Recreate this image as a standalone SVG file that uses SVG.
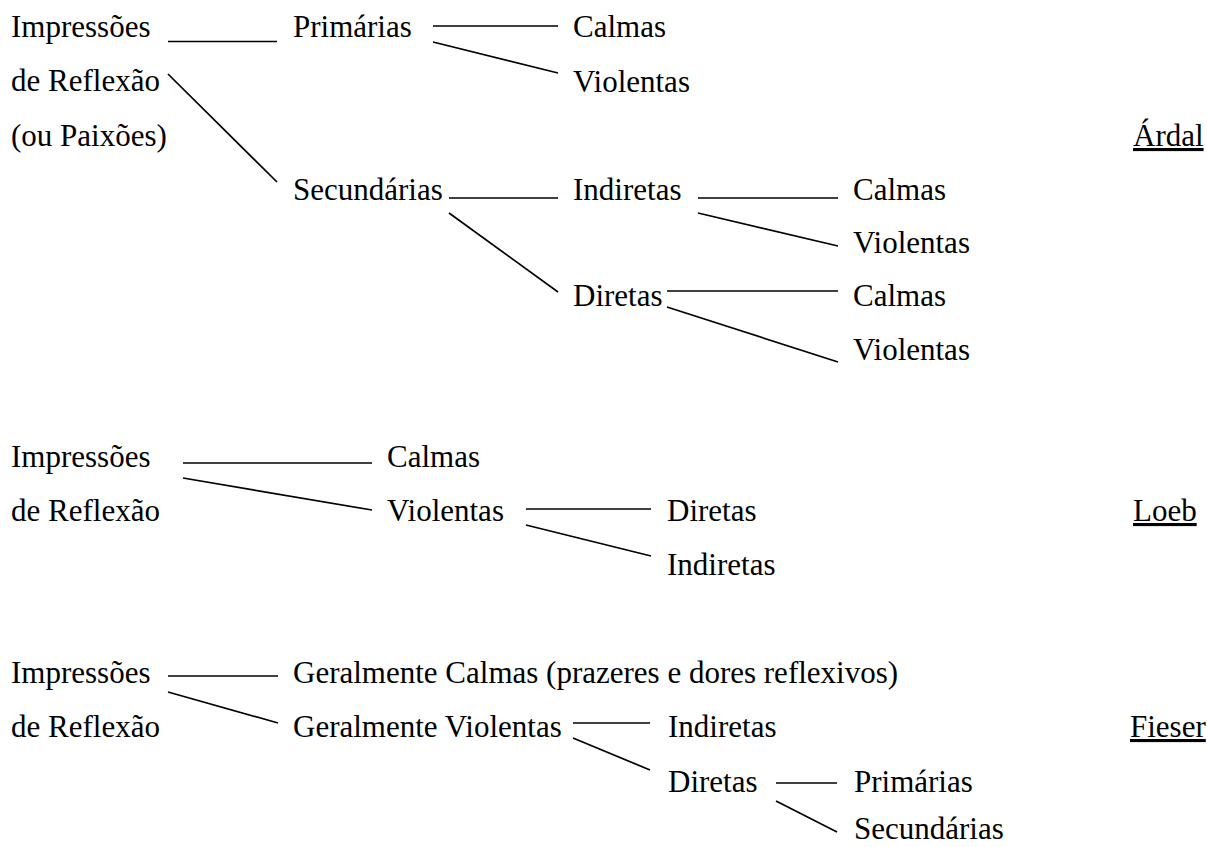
<svg xmlns="http://www.w3.org/2000/svg" width="1207" height="847" viewBox="0 0 1207 847">
<style>
text{font-family:"Liberation Serif","Times New Roman",serif;font-size:31px;fill:#000}
.u{text-decoration:underline}
#connectors line{stroke:#000;stroke-width:1.7;fill:none}
</style>
<rect width="1207" height="847" fill="#fff"/>
<g id="connectors">
<line x1="168" y1="41.5" x2="277" y2="41.5"/>
<line x1="168" y1="74" x2="277" y2="182"/>
<line x1="433" y1="26" x2="558" y2="26"/>
<line x1="433" y1="42" x2="558" y2="73"/>
<line x1="449" y1="198" x2="558" y2="198"/>
<line x1="449" y1="213" x2="558" y2="292"/>
<line x1="698" y1="198" x2="838" y2="198"/>
<line x1="698" y1="213" x2="838" y2="246"/>
<line x1="667" y1="291" x2="838" y2="291"/>
<line x1="667" y1="307" x2="838" y2="362"/>
<line x1="183" y1="463" x2="372" y2="463"/>
<line x1="183" y1="478" x2="372" y2="510"/>
<line x1="526" y1="509" x2="651" y2="509"/>
<line x1="526" y1="525" x2="651" y2="556"/>
<line x1="168" y1="676" x2="278" y2="676"/>
<line x1="168" y1="692" x2="278" y2="723"/>
<line x1="573" y1="723" x2="650" y2="723"/>
<line x1="573" y1="738" x2="650" y2="770"/>
<line x1="776" y1="783" x2="837" y2="783"/>
<line x1="776" y1="801" x2="837" y2="832"/>
</g>
<g id="a-root"><text x="11" y="37">Impressões</text><text x="11" y="91">de Reflexão</text><text x="11" y="146">(ou Paixões)</text></g>
<g id="a-primarias"><text x="293" y="37">Primárias</text></g>
<g id="a-prim-calmas"><text x="573" y="37">Calmas</text></g>
<g id="a-prim-violentas"><text x="573" y="92">Violentas</text></g>
<g id="a-secundarias"><text x="293" y="200">Secundárias</text></g>
<g id="a-indiretas"><text x="573" y="200">Indiretas</text></g>
<g id="a-diretas"><text x="573" y="306">Diretas</text></g>
<g id="a-ind-calmas"><text x="853" y="200">Calmas</text></g>
<g id="a-ind-violentas"><text x="853" y="253">Violentas</text></g>
<g id="a-dir-calmas"><text x="853" y="306">Calmas</text></g>
<g id="a-dir-violentas"><text x="853" y="360">Violentas</text></g>
<g id="a-label"><text class="u" x="1133" y="146">Árdal</text></g>
<g id="b-root"><text x="11" y="467">Impressões</text><text x="11" y="521">de Reflexão</text></g>
<g id="b-calmas"><text x="387" y="467">Calmas</text></g>
<g id="b-violentas"><text x="387" y="521">Violentas</text></g>
<g id="b-diretas"><text x="667" y="521">Diretas</text></g>
<g id="b-indiretas"><text x="667" y="575">Indiretas</text></g>
<g id="b-label"><text class="u" x="1133" y="521">Loeb</text></g>
<g id="c-root"><text x="11" y="683">Impressões</text><text x="11" y="737">de Reflexão</text></g>
<g id="c-calmas"><text x="293" y="683">Geralmente Calmas (prazeres e dores reflexivos)</text></g>
<g id="c-violentas"><text x="293" y="737">Geralmente Violentas</text></g>
<g id="c-indiretas"><text x="668" y="737">Indiretas</text></g>
<g id="c-diretas"><text x="668" y="792">Diretas</text></g>
<g id="c-primarias"><text x="854" y="792">Primárias</text></g>
<g id="c-secundarias"><text x="854" y="839">Secundárias</text></g>
<g id="c-label"><text class="u" x="1130" y="737">Fieser</text></g>
</svg>
